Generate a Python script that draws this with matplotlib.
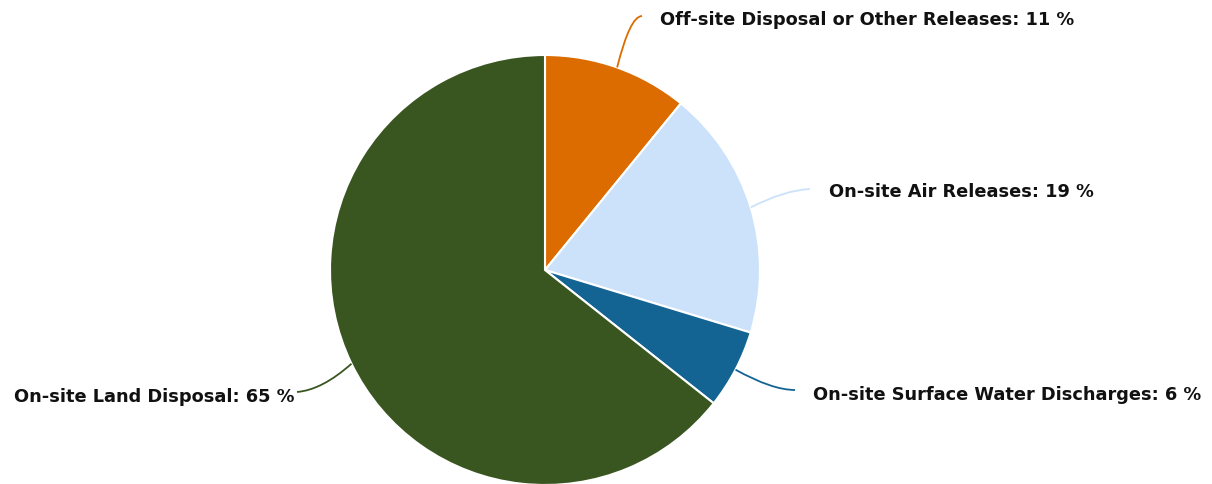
import matplotlib
matplotlib.use("Agg")
import matplotlib.pyplot as plt
import numpy as np
from matplotlib.path import Path
from matplotlib.patches import PathPatch

# release categories, clockwise from 12 o'clock
categories = [
    "Off-site Disposal or Other Releases",
    "On-site Air Releases",
    "On-site Surface Water Discharges",
    "On-site Land Disposal",
]
shares = [11, 19, 6, 65]
colors = ["#DD6C00", "#CCE2FA", "#136493", "#3A5620"]

# label anchor (x, y, ha), connector bend and connector end, in pixel space
label_pos = [(660, 20, "left"), (829, 192, "left"), (813, 395, "left"), (295, 397, "right")]
connector_bend = [(630, 16), (785, 190), (772, 390), (322, 390)]
connector_end = [(642, 16), (810, 189), (795, 390), (297, 392)]

W, H = 1212, 484
cx, cy, r = 545, 270, 215

fig = plt.figure(figsize=(W / 100, H / 100), dpi=100)
ax = fig.add_axes([0, 0, 1, 1])

# y axis is flipped below, so counterclock=True sweeps clockwise on screen
wedges, _ = ax.pie(
    shares,
    colors=colors,
    startangle=-90,
    counterclock=True,
    center=(cx, cy),
    radius=r,
    frame=True,
    wedgeprops=dict(edgecolor="white", linewidth=1.5),
)
ax.set_xlim(0, W)
ax.set_ylim(H, 0)
ax.set_aspect("equal")
ax.axis("off")

for w, name, share, color, (lx, ly, ha), bend, end in zip(
    wedges, categories, shares, colors, label_pos, connector_bend, connector_end
):
    mid = np.deg2rad((w.theta1 + w.theta2) / 2)
    start = (cx + r * np.cos(mid), cy + r * np.sin(mid))
    path = Path([start, bend, end], [Path.MOVETO, Path.CURVE3, Path.CURVE3])
    ax.add_patch(PathPatch(path, fill=False, edgecolor=color, lw=1.3))
    ax.text(lx, ly, f"{name}: {share} %", ha=ha, va="center",
            fontsize=12.8, fontweight="bold", color="#111111", family="DejaVu Sans")

fig.savefig("out.png", dpi=100)
